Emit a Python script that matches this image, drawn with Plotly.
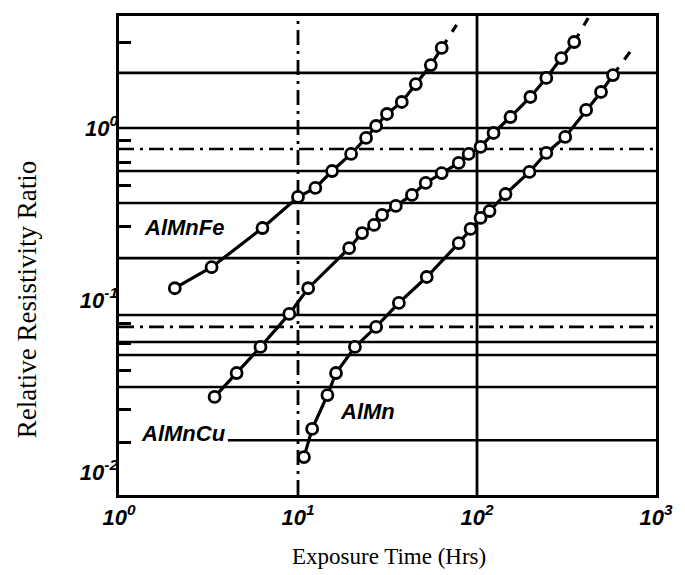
import plotly.graph_objects as go

# ---- data ----
almnfe_t = [2.05, 3.29, 6.33, 10.0, 12.5, 15.5, 19.8, 24.0, 27.3, 31.4, 38.0, 45.5, 55.2, 63.5]
almnfe_r = [0.117, 0.155, 0.262, 0.397, 0.448, 0.562, 0.706, 0.875, 1.027, 1.206, 1.416, 1.80, 2.32, 2.92]
almnfe_ext_t = [63.5, 76.9]
almnfe_ext_r = [2.92, 3.97]

almncu_t = [3.42, 4.54, 6.17, 8.94, 11.4, 19.3, 22.8, 26.6, 29.5, 35.2, 43.3, 51.7, 63.5, 79.0,
            89.8, 104.7, 123.7, 153.8, 198.7, 243.9, 295.8, 349.0]
almncu_r = [0.0273, 0.0376, 0.0533, 0.083, 0.117, 0.200, 0.245, 0.273, 0.312, 0.352, 0.408, 0.479,
            0.547, 0.626, 0.706, 0.776, 0.935, 1.158, 1.514, 1.953, 2.55, 3.16]
almncu_ext_t = [349.0, 418.0]
almncu_ext_r = [3.16, 4.36]

almn_t = [10.8, 12.0, 14.6, 16.3, 20.8, 27.3, 36.6, 52.4, 79.0, 92.1, 104.7, 117.5, 144.3,
          196.3, 243.9, 311.0, 407.0, 493.0, 575.0]
almn_r = [0.0122, 0.0178, 0.0280, 0.0376, 0.0533, 0.0697, 0.0961, 0.136, 0.214, 0.259, 0.300,
          0.329, 0.413, 0.555, 0.716, 0.887, 1.273, 1.619, 2.03]
almn_ext_t = [575.0, 743.0]
almn_ext_r = [2.03, 2.92]

series_names = ["AlMnFe", "AlMnCu", "AlMn"]

# horizontal rules of the printed grid (value, start time)
hgrid_vals = [2.09, 1.0, 0.755, 0.562, 0.366, 0.175, 0.0818, 0.0697, 0.057, 0.0479, 0.0312, 0.0153]
hgrid_start = [1, 1, 1, 1, 1, 1, 1, 1, 1, 1, 1, 4.05]
hgrid_dash = ["solid", "solid", "longdashdot", "solid", "solid", "solid", "solid", "longdashdot",
              "solid", "solid", "solid", "solid"]
vgrid_vals = [10, 100]
vgrid_dash = ["longdashdot", "solid"]

# short inside tick marks on the left axis
ytick_marks = [3.16, 0.85, 0.63, 0.46, 0.266, 0.073, 0.056, 0.039, 0.023, 0.0149]

x_ticks = [1, 10, 100, 1000]
x_ticktext = ["10<sup>0</sup>", "10<sup>1</sup>", "10<sup>2</sup>", "10<sup>3</sup>"]
y_ticks = [0.01, 0.1, 1]
y_ticktext = ["10<sup>-2</sup>", "10<sup>-1</sup>", "10<sup>0</sup>"]

XR = [0, 3]
YR = [-2.134, 0.651]

fig = go.Figure()

for v, s, d in zip(hgrid_vals, hgrid_start, hgrid_dash):
    fig.add_trace(go.Scatter(x=[s, 1000], y=[v, v], mode="lines",
                             line=dict(color="black", width=2.6, dash=d),
                             hoverinfo="skip", showlegend=False))
for v, d in zip(vgrid_vals, vgrid_dash):
    fig.add_trace(go.Scatter(x=[v, v], y=[10 ** YR[0], 10 ** YR[1]], mode="lines",
                             line=dict(color="black", width=2.8, dash=d),
                             hoverinfo="skip", showlegend=False))

for (t, r, et, er, nm) in [(almnfe_t, almnfe_r, almnfe_ext_t, almnfe_ext_r, "AlMnFe"),
                           (almncu_t, almncu_r, almncu_ext_t, almncu_ext_r, "AlMnCu"),
                           (almn_t, almn_r, almn_ext_t, almn_ext_r, "AlMn")]:
    fig.add_trace(go.Scatter(x=et, y=er, mode="lines",
                             line=dict(color="black", width=3.2, dash="dash"),
                             showlegend=False, hoverinfo="skip"))
    fig.add_trace(go.Scatter(x=t, y=r, mode="lines+markers", name=nm,
                             line=dict(color="black", width=3.2),
                             marker=dict(symbol="circle", size=11, color="white",
                                         line=dict(color="black", width=2.8)),
                             showlegend=False))

# invisible trace carrying the labelled decade axis
fig.add_trace(go.Scatter(x=[1], y=[1], yaxis="y2", mode="markers",
                         marker=dict(opacity=0), showlegend=False, hoverinfo="skip"))

tick_font = dict(family="Liberation Sans Narrow, Liberation Sans, Arial", size=22,
                 color="black", weight="bold", style="italic")
label_font = dict(family="Liberation Sans Narrow, Liberation Sans", size=22,
                  color="black", weight="bold", style="italic")

fig.update_layout(
    width=685, height=575,
    margin=dict(l=119, r=27, t=16, b=80),
    paper_bgcolor="white", plot_bgcolor="white",
    showlegend=False,
    xaxis=dict(type="log", range=XR, tickvals=x_ticks, ticktext=x_ticktext,
               showgrid=False, zeroline=False, showline=True, mirror=True,
               linecolor="black", linewidth=3.2, ticks="", tickfont=tick_font),
    yaxis=dict(type="log", range=YR, tickvals=ytick_marks, showticklabels=False,
               ticks="inside", ticklen=12, tickwidth=2.6, tickcolor="black",
               showgrid=False, zeroline=False, showline=True, mirror=True,
               linecolor="black", linewidth=3.2),
    yaxis2=dict(type="log", range=YR, overlaying="y", side="left",
                tickvals=y_ticks, ticktext=y_ticktext, ticks="",
                showgrid=False, zeroline=False, showline=False, tickfont=tick_font),
    annotations=[
        dict(text="Exposure Time (Hrs)", xref="paper", yref="paper", x=0.503, y=-0.128,
             showarrow=False, font=dict(family="Liberation Serif", size=23, color="black"),
             xanchor="center", yanchor="middle"),
        dict(text="Relative Resistivity Ratio", xref="paper", yref="paper", x=-0.171, y=0.407,
             textangle=-90, showarrow=False,
             font=dict(family="Liberation Serif", size=27, color="black"),
             xanchor="center", yanchor="middle"),
        dict(text=series_names[0], xref="x", yref="y", x=0.362, y=-0.581, showarrow=False,
             bgcolor="white", font=label_font),
        dict(text=series_names[1], xref="x", yref="y", x=0.362, y=-1.779, showarrow=False,
             bgcolor="white", font=label_font),
        dict(text=series_names[2], xref="x", yref="y", x=1.386, y=-1.651, showarrow=False,
             font=label_font),
    ],
)

fig.write_html("out.html")
